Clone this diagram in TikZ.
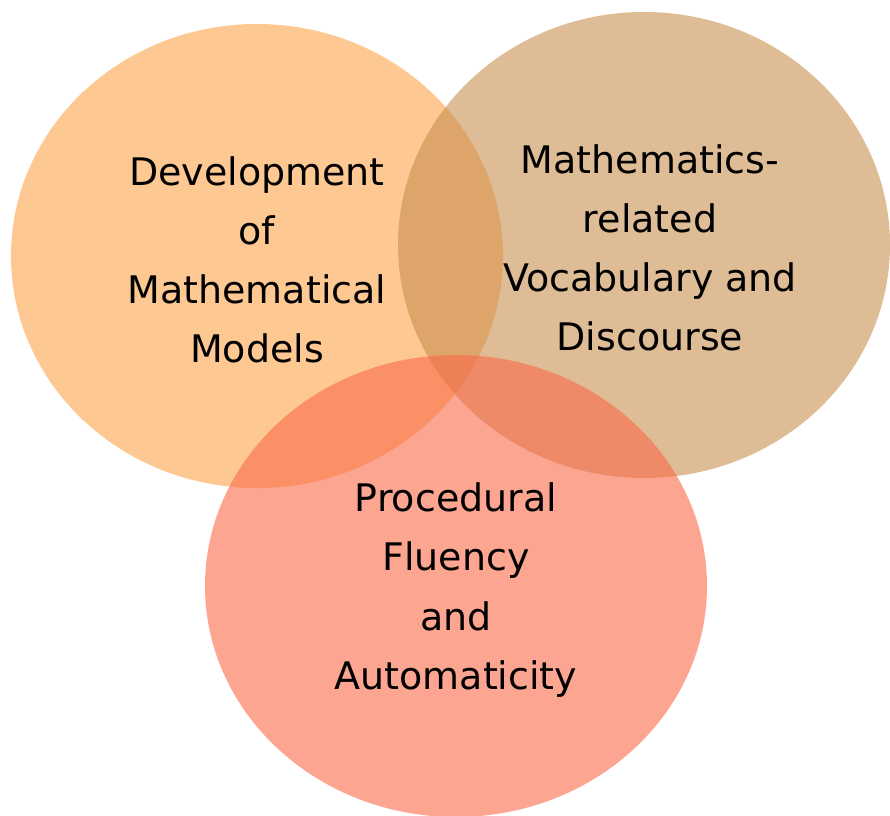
\documentclass[tikz,border=0pt]{standalone}
\usepackage{fontspec}
\setmainfont{DejaVu Sans}
\usepackage{tikz}

\definecolor{modelorange}{RGB}{253,163,73}
\definecolor{vocabtan}{RGB}{200,143,80}
\definecolor{fluencysalmon}{RGB}{250,105,72}

\tikzset{
  bubble/.style={fill opacity=0.6, draw=none},
  bubbletext/.style={align=center, text=black, font=\fontsize{27}{42}\selectfont}
}

\begin{document}
\begin{tikzpicture}[x=0.025cm, y=-0.025cm]
\useasboundingbox (0,0) rectangle (890,816);
\clip (0,0) rectangle (890,816);
% the three overlapping bubbles
\fill[bubble, modelorange] (257,256) ellipse [x radius=246, y radius=232];
\fill[bubble, vocabtan] (644,245) ellipse [x radius=246, y radius=233];
\fill[bubble, fluencysalmon] (456,586) ellipse [x radius=251, y radius=231];
% labels
\node[bubbletext] (models) at (257,260) {Development\\of\\Mathematical\\Models};
\node[bubbletext] (vocab) at (650,248) {Mathematics-\\related\\Vocabulary and\\Discourse};
\node[bubbletext] (fluency) at (456,590) {Procedural\\Fluency\\and\\Automaticity};
\end{tikzpicture}
\end{document}
